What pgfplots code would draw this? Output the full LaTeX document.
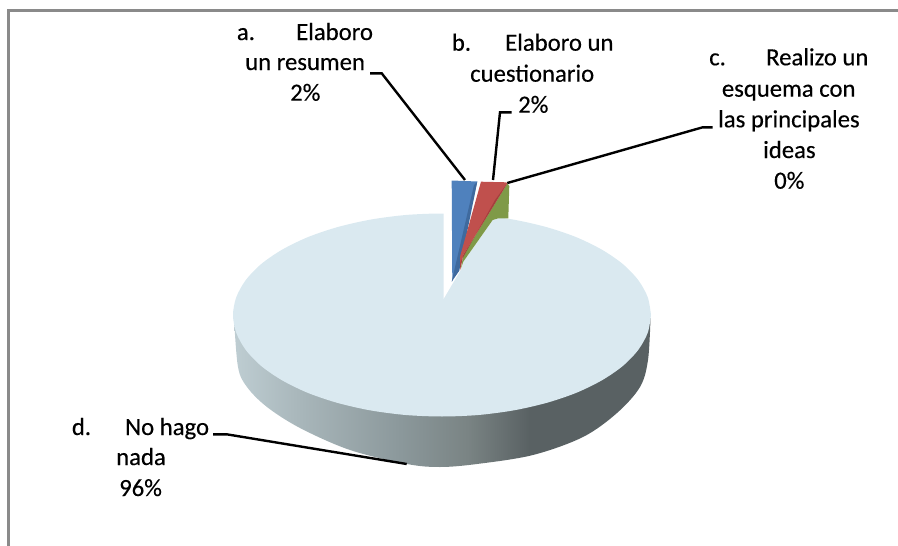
\documentclass[border=0pt]{standalone}
\usepackage{fontspec}
\setmainfont[RawFeature={embolden=0.35}]{Carlito}
\usepackage{pgfplots}
\pgfplotsset{compat=1.18}
\definecolor{frm}{HTML}{8A8A8A}
\definecolor{topf}{HTML}{DAE9F0}
\definecolor{sa}{HTML}{BECDD2}
\definecolor{sb}{HTML}{A8B6BA}
\definecolor{sc}{HTML}{8B989B}
\definecolor{sd}{HTML}{7A8484}
\definecolor{se}{HTML}{596163}
\definecolor{blu}{HTML}{4F81BD}
\definecolor{bld}{HTML}{3F6A9E}
\definecolor{rd}{HTML}{C0504D}
\definecolor{rdd}{HTML}{A5403D}
\definecolor{grn}{HTML}{7F9A48}
\pgfdeclarehorizontalshading{pieside}{100bp}{color(0bp)=(sa); color(25bp)=(sa); color(33bp)=(sb); color(45bp)=(sc); color(53bp)=(sd); color(60.5bp)=(se); color(100bp)=(se)}
\newcommand{\lb}[3]{\node[anchor=base west,inner sep=0pt] at (axis cs:#1,#2) {#3};}
\begin{document}
\begin{tikzpicture}[font=\fontsize{24.7}{30}\selectfont]
\useasboundingbox (0,0) rectangle (898pt,546pt);
\begin{axis}[
  at={(0,0)},anchor=south west,
  scale only axis,width=898pt,height=546pt,
  xmin=0,xmax=898,ymin=0,ymax=546,y dir=reverse,
  hide axis,clip=true,no markers]
% frame
\addplot[frm,line width=3pt,sharp plot,forget plot] coordinates {(8.5,546) (8.5,10) (898,10)};
% side of the pie
\addplot[draw=none,shading=pieside,smooth,tension=0.55,forget plot] coordinates {
(234,318) (238,367) (247,387) (267,407) (300,428) (350,450) (407,464) (440,467) (477,464) (533,455) (583,437) (617,413) (640,387) (648,360) (650.5,318)} --cycle;
% top face
\addplot[fill=topf,draw=none,smooth,forget plot] coordinates {
(651,315) (647.8,332.6) (638.4,349.7) (623,365.8) (602.1,380.2) (576.3,392.8) (546.5,402.9) (513.5,410.4) (478.3,415) (442,416.5) (405.7,415) (370.5,410.4) (337.5,402.9) (307.7,392.8) (281.9,380.2) (261,365.8) (245.6,349.7) (236.2,332.6) (233,315) (236.2,297.4) (245.6,280.3) (261,264.2) (281.9,249.8) (307.7,237.2) (337.5,227.1) (370.5,219.6) (405.7,215) (442,213.5) (478.3,215) (513.5,219.6) (546.5,227.1) (576.3,237.2) (602.1,249.8) (623,264.2) (638.4,280.3) (647.8,297.4) (651,315)} --cycle;
% gap
\addplot[fill=white,draw=none,forget plot] coordinates {(443.5,299) (452.3,284) (460.7,270) (463.3,261.7) (492.7,220) (498.3,218) (505,205) (443.5,205)} --cycle;
% blue slice
\addplot[fill=blu,draw=none,forget plot] coordinates {(451.7,180.5) (477.3,181.5) (452.3,281.7)} --cycle;
\addplot[fill=bld,draw=none,forget plot] coordinates {(477.3,181.7) (474,185) (451.7,281.7) (459.3,270.7)} --cycle;
% green slice
\addplot[fill=grn,draw=none,forget plot] coordinates {(507.3,183.3) (509.3,186) (508.3,218.3) (498.3,218.3) (492.7,220) (463.3,261.7) (460.7,269.3) (463.3,255)} --cycle;
% red slice
\addplot[fill=rd,draw=none,forget plot] coordinates {(481,181.7) (506,182.3) (507.3,183.3) (463.3,255) (460,270) (460,256.7)} --cycle;
\addplot[fill=rdd,draw=none,forget plot] coordinates {(507.3,183.3) (463.3,255) (460,270) (460.5,262) (495,200)} --cycle;
% leaders
\addplot[black,line width=2.4pt,sharp plot,forget plot] coordinates {(370,73.3) (381.7,73.3) (465,180)};
\addplot[black,line width=2.4pt,sharp plot,forget plot] coordinates {(511.7,112.3) (500,112.3) (493,180)};
\addplot[black,line width=2.4pt,sharp plot,forget plot] coordinates {(712.7,127.3) (702.7,127.3) (507.3,183)};
\addplot[black,line width=2.4pt,sharp plot,forget plot] coordinates {(213,434.3) (226.7,434.3) (406.7,464)};
% labels
\lb{236.7}{40}{a.}\lb{296}{40}{Elaboro}\lb{245}{70}{un resumen}\lb{290}{100.7}{2\%}
\lb{451.7}{50.7}{b.}\lb{505}{50.7}{Elaboro un}\lb{470}{81.7}{cuestionario}\lb{518}{112.7}{2\%}
\lb{709}{65.3}{c.}\lb{766}{65.3}{Realizo un}\lb{721.7}{96.7}{esquema con}\lb{718}{127.3}{las principales}\lb{763}{158}{ideas}\lb{774}{188.7}{0\%}
\lb{71.7}{435}{d.}\lb{125}{435}{No hago}\lb{116}{465}{nada}\lb{119}{496}{96\%}
\end{axis}
\end{tikzpicture}
\end{document}
